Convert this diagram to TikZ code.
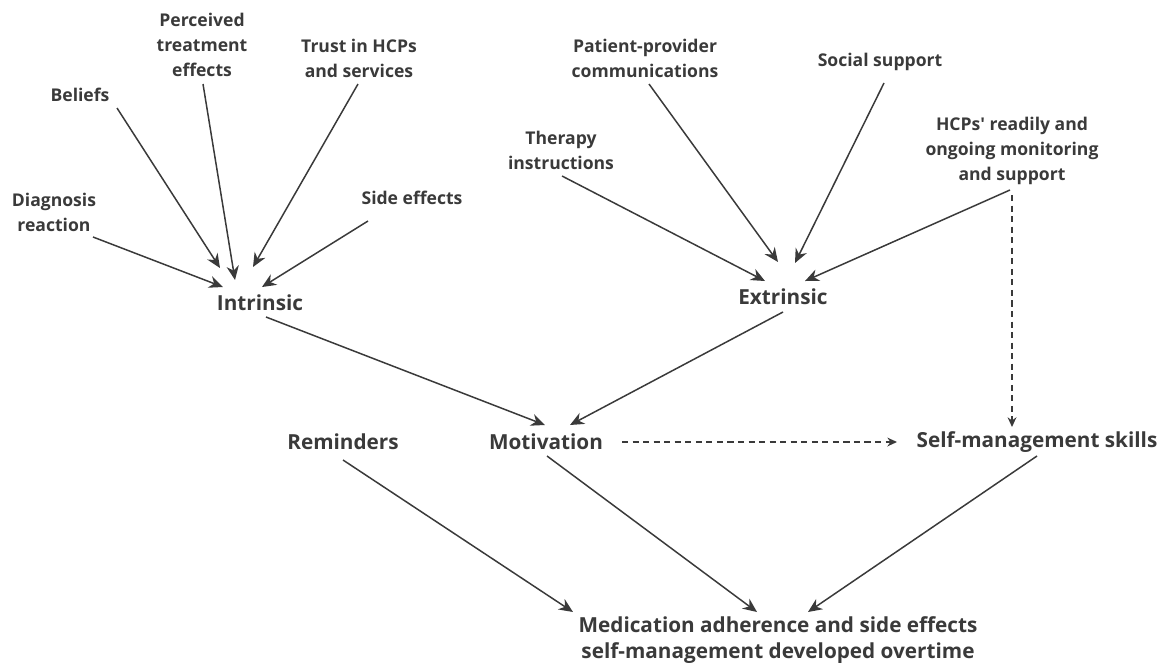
\documentclass[tikz,border=0pt]{standalone}
\usepackage{fontspec}
\setmainfont{Open Sans}
\usetikzlibrary{arrows.meta, calc}

\definecolor{inkgray}{HTML}{3A3A3A}

\begin{document}
\begin{tikzpicture}[
    x=0.02cm, y=-0.02cm,
    factor/.style={align=center, inner sep=0pt, text=inkgray,
      font=\fontsize{10}{14.3}\selectfont\bfseries},
    hub/.style={align=center, inner sep=0pt, text=inkgray,
      font=\fontsize{11.8}{15}\selectfont\bfseries},
    link/.style={draw=inkgray, line width=0.85pt, -{Stealth[length=8pt, width=7pt]}},
    weaklink/.style={link, dash pattern=on 3.5pt off 2.5pt, -{Stealth[length=5.5pt, width=5pt]}}
  ]
  \useasboundingbox (0,0) rectangle (1163,670);

  % intrinsic factors
  \node[factor] (diag) at (54,212) {Diagnosis\\reaction};
  \node[factor] (belief) at (80,95) {Beliefs};
  \node[factor] (perc) at (202,45) {Perceived\\treatment\\effects};
  \node[factor] (trust) at (359,58) {Trust in HCPs\\and services};
  \node[factor] (side) at (412,198) {Side effects};
  \node[hub] (intr) at (260,303) {Intrinsic};

  % extrinsic factors
  \node[factor] (ther) at (561,150) {Therapy\\instructions};
  \node[factor] (comm) at (645,58) {Patient-provider\\communications};
  \node[factor] (social) at (880,62) {Social support};
  \node[factor] (hcp) at (1012,151) {HCPs\textquotesingle{} readily and\\ongoing monitoring\\and support};
  \node[hub] (extr) at (783,297) {Extrinsic};

  % middle row and outcome
  \node[hub] (remind) at (343,442) {Reminders};
  \node[hub] (motiv) at (546,442) {Motivation};
  \node[hub] (skills) at (1037,442) {Self-management skills};
  \node[hub] (outcome) at (778,640) {Medication adherence and side effects\\self-management developed overtime};

  \draw[link] ($(diag)+(39,25)$) -- ($(intr)+(-37,-16)$);
  \draw[link] ($(belief)+(37,13)$) -- ($(intr)+(-40,-35)$);
  \draw[link] ($(perc)+(1,39)$) -- ($(intr)+(-25,-23)$);
  \draw[link] ($(trust)+(-1,26)$) -- ($(intr)+(-7,-36)$);
  \draw[link] ($(side)+(-44,23)$) -- ($(intr)+(2,-16)$);

  \draw[link] ($(ther)+(1,26)$) -- ($(extr)+(-18,-16)$);
  \draw[link] ($(comm)+(4,26)$) -- ($(extr)+(-5,-35)$);
  \draw[link] ($(social)+(4,21)$) -- ($(extr)+(12,-34)$);
  \draw[link] ($(hcp)+(-2,39)$) -- ($(extr)+(22,-16)$);

  \draw[link] ($(intr)+(6,14)$) -- ($(motiv)+(-1,-17)$);
  \draw[link] ($(extr)+(0,15)$) -- ($(motiv)+(24,-17)$);

  \draw[weaklink] ($(hcp)+(0,44)$) -- ($(skills)+(-25,-15)$);
  \draw[weaklink] ($(motiv)+(76,0)$) -- ($(skills)+(-140,0)$);

  \draw[link] ($(remind)+(0,18)$) -- ($(outcome)+(-205,-28)$);
  \draw[link] ($(motiv)+(1,14)$) -- ($(outcome)+(-21,-28)$);
  \draw[link] ($(skills)+(0,14)$) -- ($(outcome)+(30,-28)$);
\end{tikzpicture}
\end{document}
